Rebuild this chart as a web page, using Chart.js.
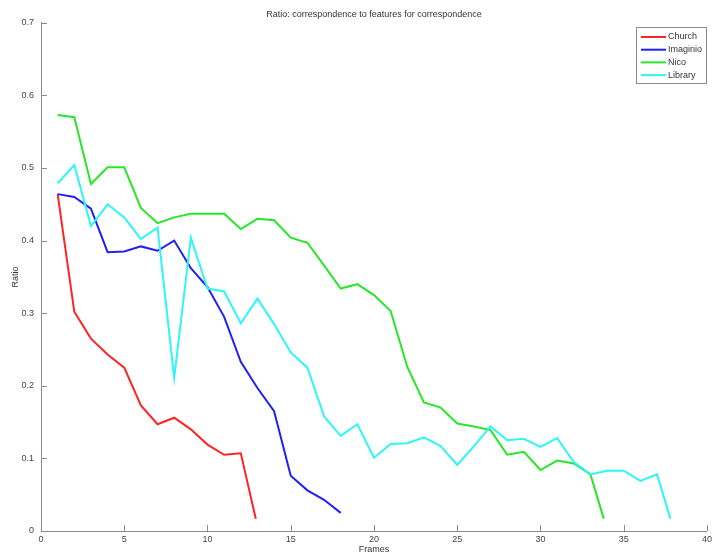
<!DOCTYPE html>
<html>
<head>
<meta charset="utf-8">
<script src="https://cdn.jsdelivr.net/npm/chart.js@4/dist/chart.umd.min.js"></script>
<style>
  html, body { margin: 0; padding: 0; background: #fff; }
  #wrap { width: 715px; height: 555px; }
</style>
</head>
<body>
<div id="wrap"><canvas id="chart"></canvas></div>
<script>
// values (frame -> ratio)
const churchX = [1, 2, 3, 4, 5, 6, 7, 8, 9, 10, 11, 12, 12.9];
const churchY = [0.464, 0.302, 0.265, 0.243, 0.225, 0.173, 0.147, 0.156, 0.140, 0.119, 0.105, 0.107, 0.017];

const imaginioX = [1, 2, 3, 4, 5, 6, 7, 8, 9, 10, 11, 12, 13, 14, 15, 16, 17, 18];
const imaginioY = [0.464, 0.460, 0.444, 0.384, 0.385, 0.392, 0.386, 0.400, 0.362, 0.336, 0.295, 0.233, 0.197, 0.165, 0.076, 0.056, 0.043, 0.025];

const nicoX = [1, 2, 3, 4, 5, 6, 7, 8, 9, 10, 11, 12, 13, 14, 15, 16, 17, 18, 19, 20,
  21, 22, 23, 24, 25, 26, 27, 28, 29, 30, 31, 32, 33, 33.8];
const nicoY = [0.573, 0.570, 0.478, 0.501, 0.501, 0.445, 0.424, 0.432, 0.437, 0.437, 0.437, 0.416, 0.430, 0.428, 0.404, 0.397, 0.366, 0.334, 0.340, 0.325,
  0.303, 0.226, 0.177, 0.170, 0.148, 0.144, 0.139, 0.105, 0.109, 0.084, 0.097, 0.093, 0.078, 0.017];

const libraryX = [1, 2, 3, 4, 5, 6, 7, 8, 9, 10, 11, 12, 13, 14, 15, 16, 17, 18, 19, 20,
  21, 22, 23, 24, 25, 26, 27, 28, 29, 30, 31, 32, 33, 34, 35, 36, 37, 37.8];
const libraryY = [0.479, 0.504, 0.420, 0.450, 0.432, 0.402, 0.418, 0.211, 0.404, 0.334, 0.330, 0.286, 0.320, 0.285, 0.246, 0.225, 0.158, 0.131, 0.147, 0.101,
  0.120, 0.121, 0.129, 0.117, 0.091, 0.117, 0.144, 0.125, 0.127, 0.116, 0.128, 0.095, 0.078, 0.083, 0.083, 0.069, 0.078, 0.017];

const seriesNames = ['Church', 'Imaginio', 'Nico', 'Library'];
const seriesColors = ['#ff2424', '#2020f4', '#28e628', '#2ef6f6'];
const xTicks = [0, 5, 10, 15, 20, 25, 30, 35, 40];
const yTicks = [0, 0.1, 0.2, 0.3, 0.4, 0.5, 0.6, 0.7];

const FONT = 'Liberation Sans, Arial, sans-serif';

function pts(xs, ys) {
  return xs.map((x, i) => ({ x: x, y: ys[i] }));
}

const allX = [churchX, imaginioX, nicoX, libraryX];
const allY = [churchY, imaginioY, nicoY, libraryY];

const datasets = seriesNames.map((name, i) => ({
  label: name,
  data: pts(allX[i], allY[i]),
  borderColor: seriesColors[i],
  backgroundColor: seriesColors[i],
  borderWidth: 2,
  pointRadius: 0,
  tension: 0,
  order: 4 - i
}));

// matlab style inward ticks
const inwardTicks = {
  id: 'inwardTicks',
  afterDatasetsDraw(chart) {
    const ctx = chart.ctx;
    const xs = chart.scales.x, ys = chart.scales.y;
    const a = chart.chartArea;
    ctx.save();
    ctx.strokeStyle = '#8a8a8a';
    ctx.lineWidth = 1;
    ctx.beginPath();
    xTicks.forEach(v => {
      const px = Math.round(xs.getPixelForValue(v)) + 0.5;
      ctx.moveTo(px, a.bottom);
      ctx.lineTo(px, a.bottom - 6);
    });
    yTicks.forEach(v => {
      const py = Math.round(ys.getPixelForValue(v)) + 0.5;
      ctx.moveTo(a.left, py);
      ctx.lineTo(a.left + 6, py);
    });
    ctx.stroke();
    ctx.restore();
  }
};

// boxed legend in the top right corner
const boxLegend = {
  id: 'boxLegend',
  afterDraw(chart) {
    const ctx = chart.ctx;
    const bx = 636, by = 27, bw = 70, bh = 56;
    ctx.save();
    ctx.fillStyle = '#fff';
    ctx.fillRect(bx, by, bw, bh);
    ctx.strokeStyle = '#8a8a8a';
    ctx.lineWidth = 1;
    ctx.strokeRect(bx + 0.5, by + 0.5, bw, bh);
    ctx.font = '9px ' + FONT;
    ctx.textBaseline = 'middle';
    chart.data.datasets.forEach((ds, i) => {
      const y = by + 10 + i * 12.7;
      ctx.strokeStyle = ds.borderColor;
      ctx.lineWidth = 2;
      ctx.beginPath();
      ctx.moveTo(bx + 5, y);
      ctx.lineTo(bx + 30, y);
      ctx.stroke();
      ctx.fillStyle = '#333';
      ctx.fillText(ds.label, bx + 32, y);
    });
    ctx.restore();
  }
};

new Chart(document.getElementById('chart'), {
  type: 'line',
  data: { datasets: datasets },
  options: {
    responsive: true,
    maintainAspectRatio: false,
    animation: false,
    layout: { padding: { top: 0, right: 3, bottom: 0, left: 0 } },
    plugins: {
      legend: { display: false },
      tooltip: { enabled: false },
      title: {
        display: true,
        text: 'Ratio: correspondence to features for correspondence',
        fullSize: false,
        color: '#333',
        font: { family: FONT, size: 9, weight: 'normal' },
        padding: { top: 9, bottom: 3 }
      }
    },
    scales: {
      x: {
        type: 'linear',
        min: 0,
        max: 40,
        afterBuildTicks: s => { s.ticks = xTicks.map(v => ({ value: v })); },
        afterFit: s => { s.height = 24; },
        grid: { drawOnChartArea: false, drawTicks: false },
        border: { display: true, color: '#8a8a8a', width: 1 },
        ticks: { color: '#444', padding: 3, maxRotation: 0, font: { family: FONT, size: 9 } },
        title: {
          display: true, text: 'Frames', color: '#333',
          font: { family: FONT, size: 9 }, padding: { top: 0, bottom: 0 }
        }
      },
      y: {
        type: 'linear',
        min: 0,
        max: 0.7,
        afterBuildTicks: s => { s.ticks = yTicks.map(v => ({ value: v })); },
        afterFit: s => { s.width = 41; },
        grid: { drawOnChartArea: false, drawTicks: false },
        border: { display: true, color: '#8a8a8a', width: 1 },
        ticks: {
          color: '#444', padding: 7, font: { family: FONT, size: 9 },
          callback: v => String(Math.round(v * 10) / 10)
        },
        title: {
          display: true, text: 'Ratio', color: '#333',
          font: { family: FONT, size: 9 }, padding: { top: 10, bottom: 0 }
        }
      }
    }
  },
  plugins: [inwardTicks, boxLegend]
});
</script>
</body>
</html>
